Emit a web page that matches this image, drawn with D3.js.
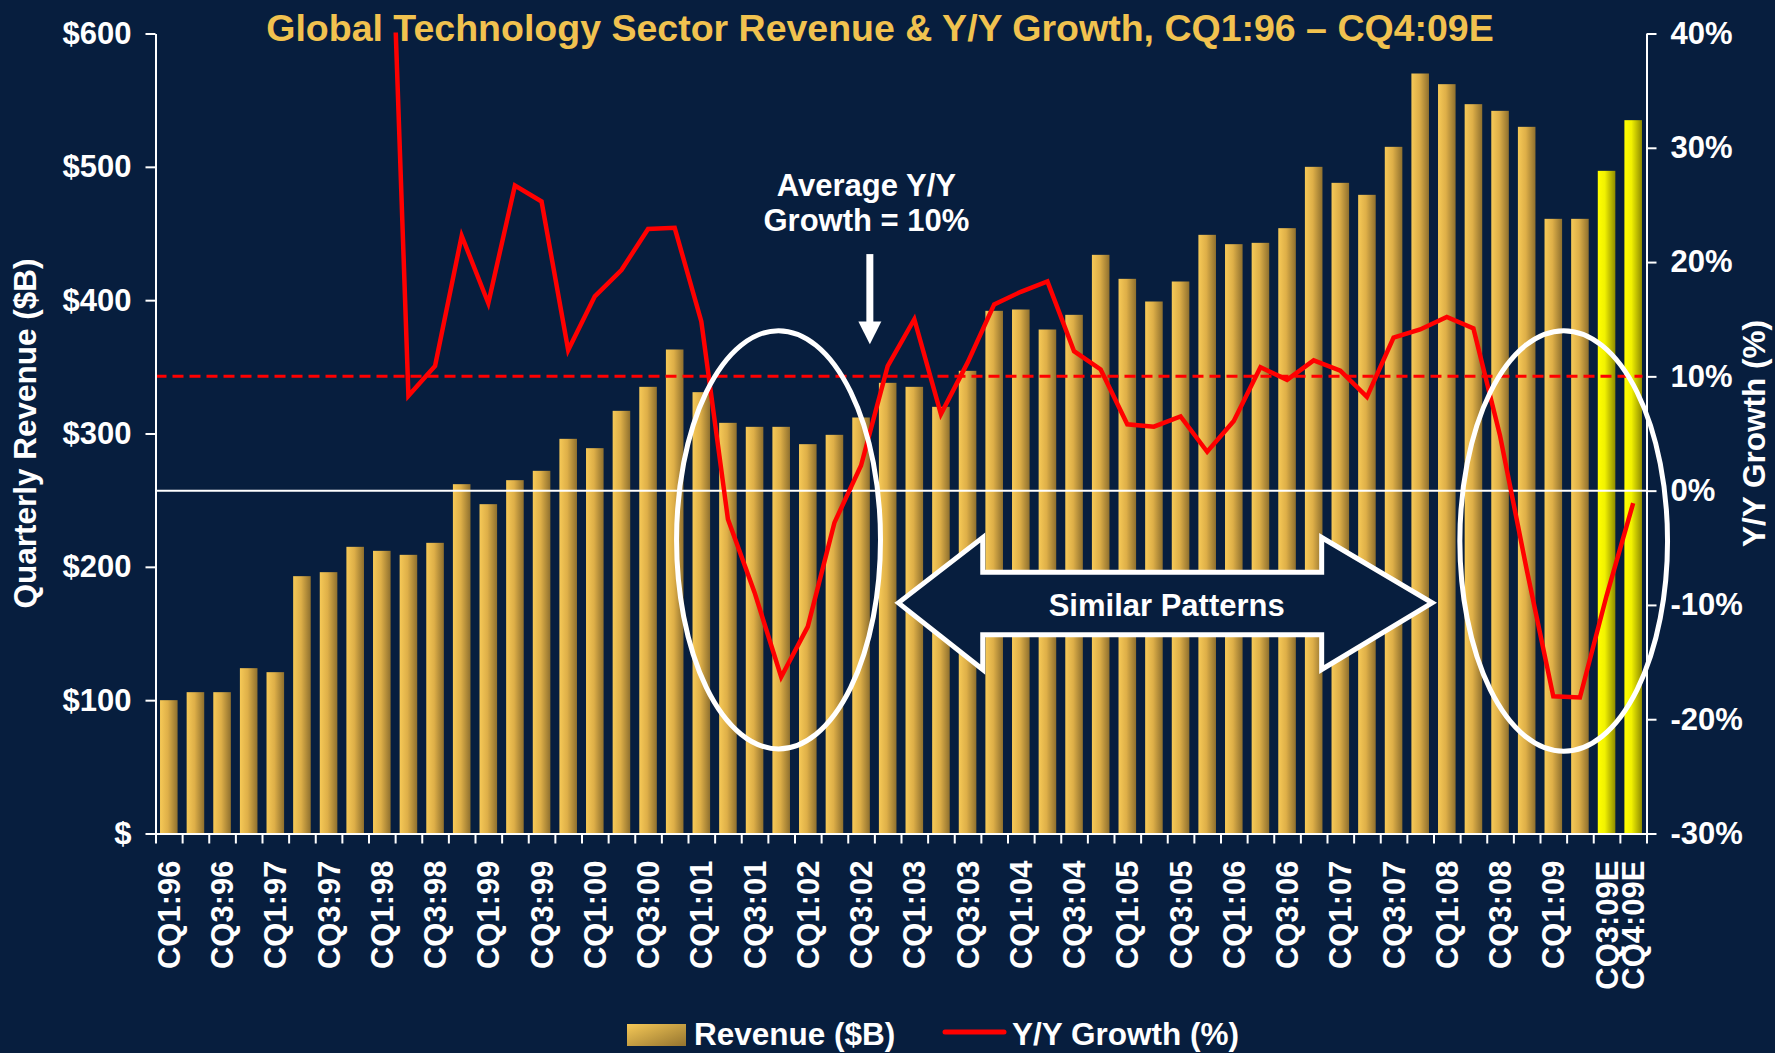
<!DOCTYPE html>
<html>
<head>
<meta charset="utf-8">
<script src="https://cdn.jsdelivr.net/npm/d3@7"></script>
<style>
    html, body { margin: 0; padding: 0; background: #071e3e; }
    svg { display: block; }
    text { font-family: 'Liberation Sans', Arial, sans-serif; font-weight: bold; }
</style>
</head>
<body>
<div id="chart"></div>
<script>
const quarters = [
    'CQ1:96','CQ2:96','CQ3:96','CQ4:96','CQ1:97','CQ2:97','CQ3:97','CQ4:97',
    'CQ1:98','CQ2:98','CQ3:98','CQ4:98','CQ1:99','CQ2:99','CQ3:99','CQ4:99',
    'CQ1:00','CQ2:00','CQ3:00','CQ4:00','CQ1:01','CQ2:01','CQ3:01','CQ4:01',
    'CQ1:02','CQ2:02','CQ3:02','CQ4:02','CQ1:03','CQ2:03','CQ3:03','CQ4:03',
    'CQ1:04','CQ2:04','CQ3:04','CQ4:04','CQ1:05','CQ2:05','CQ3:05','CQ4:05',
    'CQ1:06','CQ2:06','CQ3:06','CQ4:06','CQ1:07','CQ2:07','CQ3:07','CQ4:07',
    'CQ1:08','CQ2:08','CQ3:08','CQ4:08','CQ1:09','CQ2:09','CQ3:09E','CQ4:09E'
];

// quarterly revenue, $B
const revenue = [
    100, 106, 106, 124, 121, 193, 196, 215,
    212, 209, 218, 262, 247, 265, 272, 296,
    289, 317, 335, 363, 331, 308, 305, 305,
    292, 299, 312, 338, 335, 320, 347, 392,
    393, 378, 389, 434, 416, 399, 414, 449,
    442, 443, 454, 500, 488, 479, 515, 570,
    562, 547, 542, 530, 461, 461, 497, 535
];

// Y/Y growth, % (series starts CQ1:98, first point runs off the top)
const growth = [
    null, null, null, null, null, null, null, null,
    75, 8.3, 10.9, 22.3, 16.4, 26.7, 25.3, 12.3,
    17.0, 19.3, 22.9, 23.0, 14.8, -2.5, -8.9, -16.3,
    -11.9, -2.8, 2.2, 10.9, 15.0, 6.7, 11.2, 16.3,
    17.4, 18.3, 12.2, 10.6, 5.8, 5.6, 6.5, 3.4,
    6.1, 10.8, 9.7, 11.4, 10.5, 8.2, 13.4, 14.1,
    15.2, 14.2, 4.8, -6.9, -18.0, -18.1, -9.2, -1.1
];

const estimates = ['CQ3:09E', 'CQ4:09E'];
const tickQuarters = quarters.filter((q, i) => i % 2 === 0 || q === 'CQ4:09E');

const revenueTicks = [0, 100, 200, 300, 400, 500, 600];
const growthTicks = [-30, -20, -10, 0, 10, 20, 30, 40];
const averageGrowth = 10;

const W = 1775, H = 1053;
const plotLeft = 155.5, plotRight = 1646.5, plotTop = 33.5, plotBottom = 833.5;
const bg = '#071e3e';

const svg = d3.select('#chart').append('svg')
    .attr('width', W)
    .attr('height', H);

svg.append('rect')
    .attr('width', W)
    .attr('height', H)
    .attr('fill', bg);

const defs = svg.append('defs');

const addGradient = (id, stops, diag) => {
    const g = defs.append('linearGradient')
        .attr('id', id)
        .attr('x1', 0).attr('y1', 0)
        .attr('x2', 1).attr('y2', diag ? 1 : 0);
    stops.forEach(s => g.append('stop').attr('offset', s[0]).attr('stop-color', s[1]));
};
addGradient('gold', [[0, '#f6c957'], [0.45, '#deaf48'], [1, '#8f702e']]);
addGradient('yel', [[0, '#ffff00'], [0.4, '#f2f200'], [1, '#8f8c00']]);
addGradient('goldLegend', [[0, '#f6c957'], [1, '#94742f']], true);

defs.append('clipPath').attr('id', 'plotClip')
    .append('rect')
    .attr('x', plotLeft).attr('y', plotTop - 1)
    .attr('width', plotRight - plotLeft).attr('height', plotBottom - plotTop + 2);

const x = d3.scaleBand()
    .domain(quarters)
    .range([plotLeft, plotRight])
    .paddingInner(0.34)
    .paddingOuter(0.17);

// slot index (1-based, centre of quarter i) for ticks and annotations
const xi = d3.scaleLinear().domain([0.5, quarters.length + 0.5]).range([plotLeft, plotRight]);

const yL = d3.scaleLinear().domain([0, 600]).range([plotBottom, plotTop]);
const yR = d3.scaleLinear().domain([-30, 40]).range([plotBottom, plotTop]);

//--------------------------------------------------BARS
svg.append('g')
    .attr('class', 'bars')
    .selectAll('rect')
    .data(quarters.map((q, i) => ({q, v: revenue[i]})))
    .enter().append('rect')
    .attr('x', d => x(d.q))
    .attr('width', x.bandwidth())
    .attr('y', d => yL(d.v))
    .attr('height', d => yL(0) - yL(d.v))
    .attr('fill', d => estimates.includes(d.q) ? 'url(#yel)' : 'url(#gold)');

// zero growth line
svg.append('line')
    .attr('x1', plotLeft).attr('x2', plotRight)
    .attr('y1', yR(0)).attr('y2', yR(0))
    .attr('stroke', 'white')
    .attr('stroke-width', 2);

// average growth line
svg.append('line')
    .attr('x1', plotLeft).attr('x2', plotRight - 4)
    .attr('y1', yR(averageGrowth)).attr('y2', yR(averageGrowth))
    .attr('stroke', '#ff0000')
    .attr('stroke-width', 3)
    .attr('stroke-dasharray', '11,6');

//--------------------------------------------------GROWTH LINE
const line = d3.line()
    .defined(d => d.g !== null)
    .x(d => x(d.q) + x.bandwidth() / 2)
    .y(d => yR(d.g));

svg.append('path')
    .datum(quarters.map((q, i) => ({q, g: growth[i]})))
    .attr('d', line)
    .attr('clip-path', 'url(#plotClip)')
    .attr('fill', 'none')
    .attr('stroke', '#ff0000')
    .attr('stroke-width', 4.5);

//--------------------------------------------------AXES
const styleAxis = (g) => {
    g.selectAll('path, line').attr('stroke', 'white').attr('stroke-width', 2);
    g.selectAll('text')
        .attr('fill', 'white')
        .style('font-size', '31px')
        .style('font-family', "'Liberation Sans', Arial, sans-serif")
        .style('font-weight', 'bold');
};

svg.append('g')
    .attr('transform', `translate(${plotLeft},0)`)
    .call(d3.axisLeft(yL)
        .tickValues(revenueTicks)
        .tickFormat(d => d === 0 ? '$' : `$${d}`)
        .tickSize(10)
        .tickSizeOuter(0)
        .tickPadding(14))
    .call(styleAxis);

svg.append('g')
    .attr('transform', `translate(${plotRight},0)`)
    .call(d3.axisRight(yR)
        .tickValues(growthTicks)
        .tickFormat(d => `${d}%`)
        .tickSize(10)
        .tickSizeOuter(0)
        .tickPadding(14))
    .call(styleAxis);

svg.append('g')
    .attr('transform', `translate(0,${plotBottom})`)
    .call(d3.axisBottom(xi)
        .tickValues(d3.range(0.5, quarters.length + 1, 1))
        .tickFormat('')
        .tickSize(10)
        .tickSizeOuter(0))
    .call(styleAxis);

const xLabels = svg.append('g')
    .attr('transform', `translate(0,${plotBottom})`)
    .call(d3.axisBottom(x)
        .tickValues(tickQuarters)
        .tickSize(0)
        .tickPadding(0))
    .call(styleAxis);

xLabels.select('.domain').remove();
xLabels.selectAll('text')
    .attr('transform', 'rotate(-90)')
    .attr('x', -27)
    .attr('y', 0)
    .attr('dy', '0.36em')
    .style('text-anchor', 'end');

//--------------------------------------------------TITLES
svg.append('text')
    .text('Global Technology Sector Revenue & Y/Y Growth, CQ1:96 \u2013 CQ4:09E')
    .attr('x', 880)
    .attr('y', 41)
    .style('text-anchor', 'middle')
    .style('font-size', '37.5px')
    .style('fill', '#f1c24f');

svg.append('text')
    .text('Quarterly Revenue ($B)')
    .attr('transform', `translate(36,${(plotTop + plotBottom) / 2}) rotate(-90)`)
    .style('text-anchor', 'middle')
    .style('font-size', '31.5px')
    .style('fill', 'white');

svg.append('text')
    .text('Y/Y Growth (%)')
    .attr('transform', `translate(1765,${(plotTop + plotBottom) / 2}) rotate(-90)`)
    .style('text-anchor', 'middle')
    .style('font-size', '31.5px')
    .style('fill', 'white');

//--------------------------------------------------ANNOTATIONS
const ellipses = [
    {i: 23.9, g: -4.3, ri: 3.83, rg: 18.3},
    {i: 53.39, g: -4.4, ri: 3.9, rg: 18.4}
];

svg.append('g')
    .selectAll('ellipse')
    .data(ellipses)
    .enter().append('ellipse')
    .attr('cx', d => xi(d.i))
    .attr('cy', d => yR(d.g))
    .attr('rx', d => xi(d.i + d.ri) - xi(d.i))
    .attr('ry', d => yR(0) - yR(d.rg))
    .attr('fill', 'none')
    .attr('stroke', 'white')
    .attr('stroke-width', 5);

// double arrow, in (slot, growth %) units
const doubleArrow = [
    [28.4, -9.82], [31.57, -4.1], [31.57, -7.14], [44.3, -7.14], [44.3, -4.1],
    [48.45, -9.82], [44.3, -15.65], [44.3, -12.6], [31.57, -12.6], [31.57, -15.65]
];

svg.append('polygon')
    .attr('points', doubleArrow.map(p => `${xi(p[0])},${yR(p[1])}`).join(' '))
    .attr('fill', bg)
    .attr('stroke', 'white')
    .attr('stroke-width', 5)
    .attr('stroke-linejoin', 'miter');

svg.append('text')
    .text('Similar Patterns')
    .attr('x', xi(38.48))
    .attr('y', yR(-9.82))
    .attr('dy', '0.43em')
    .style('text-anchor', 'middle')
    .style('font-size', '31px')
    .style('fill', 'white');

const avgNote = svg.append('text')
    .attr('x', xi(27.2))
    .style('text-anchor', 'middle')
    .style('font-size', '31px')
    .style('fill', 'white');

avgNote.append('tspan').attr('x', xi(27.2)).attr('y', yR(25.8)).text('Average Y/Y');
avgNote.append('tspan').attr('x', xi(27.2)).attr('y', yR(22.75)).text('Growth = 10%');

const arrowX = xi(27.33);
svg.append('line')
    .attr('x1', arrowX).attr('x2', arrowX)
    .attr('y1', yR(20.7)).attr('y2', yR(14.6))
    .attr('stroke', 'white')
    .attr('stroke-width', 7);

svg.append('path')
    .attr('d', `M${arrowX - 11.5},${yR(14.8)} L${arrowX + 11.5},${yR(14.8)} L${arrowX},${yR(12.8)} Z`)
    .attr('fill', 'white');

//--------------------------------------------------LEGEND
const legend = svg.append('g').attr('class', 'legend');

legend.append('rect')
    .attr('x', 627).attr('y', 1024)
    .attr('width', 59).attr('height', 22)
    .attr('fill', 'url(#goldLegend)');

legend.append('text')
    .text('Revenue ($B)')
    .attr('x', 694).attr('y', 1045)
    .style('font-size', '31.5px')
    .style('fill', 'white');

legend.append('line')
    .attr('x1', 945).attr('x2', 1004)
    .attr('y1', 1032).attr('y2', 1032)
    .attr('stroke', '#ff0000')
    .attr('stroke-width', 5)
    .attr('stroke-linecap', 'round');

legend.append('text')
    .text('Y/Y Growth (%)')
    .attr('x', 1012).attr('y', 1045)
    .style('font-size', '31.5px')
    .style('fill', 'white');
</script>
</body>
</html>
